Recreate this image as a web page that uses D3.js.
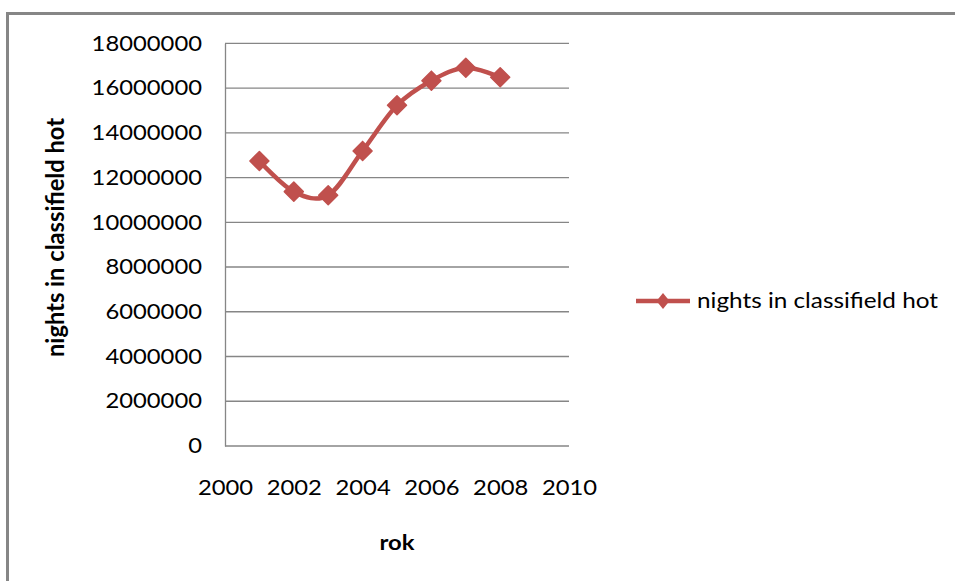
<!DOCTYPE html>
<html>
<head>
<meta charset="utf-8">
<script src="https://cdn.jsdelivr.net/npm/d3@7"></script>
<style>
  html, body { margin: 0; padding: 0; background: #fff; }
  svg { display: block; }
  text { font-family: Lato, "Open Sans", "Liberation Sans", sans-serif; fill: #000; }
</style>
</head>
<body>
<svg id="chart" width="955" height="581"></svg>
<script>
// ---- data ----
const years = [2001, 2002, 2003, 2004, 2005, 2006, 2007, 2008];
const nights = [12740000, 11370000, 11210000, 13190000, 15230000, 16330000, 16910000, 16480000];
const seriesName = "nights in classifield hot";
const yTicks = [0, 2000000, 4000000, 6000000, 8000000, 10000000, 12000000, 14000000, 16000000, 18000000];
const xTicks = [2000, 2002, 2004, 2006, 2008, 2010];
const xTitle = "rok";
const yTitle = "nights in classifield hot";

const W = 955, H = 581;
const plot = { left: 225, right: 569, top: 43.3, bottom: 446 };
const gridColor = "#868686";
const seriesColor = "#C0504D";

const svg = d3.select("#chart");

// outer border (top and left visible)
svg.append("path")
  .attr("d", `M7.5,${H} L7.5,13.5 L${W},13.5`)
  .attr("fill", "none")
  .attr("stroke", gridColor)
  .attr("stroke-width", 3);

const x = d3.scaleLinear().domain([2000, 2010]).range([plot.left, plot.right]);
const y = d3.scaleLinear().domain([0, 18000000]).range([plot.bottom, plot.top]);

// gridlines
svg.append("g")
  .selectAll("line")
  .data(yTicks)
  .join("line")
  .attr("x1", plot.left).attr("x2", plot.right)
  .attr("y1", d => y(d)).attr("y2", d => y(d))
  .attr("stroke", gridColor)
  .attr("stroke-width", 1.3);

// y axis
const digitW = 13.8;
const yAxis = svg.append("g")
  .attr("transform", `translate(${plot.left},0)`)
  .call(d3.axisLeft(y).tickValues(yTicks).tickSize(0).tickPadding(23).tickFormat(d3.format("d")));
yAxis.select(".domain").attr("stroke", gridColor).attr("stroke-width", 1.3);
yAxis.selectAll("text")
  .style("font-family", "Lato, sans-serif")
  .attr("font-size", 21)
  .attr("textLength", d => String(d).length * digitW)
  .attr("lengthAdjust", "spacingAndGlyphs");

// x axis
const xAxis = svg.append("g")
  .attr("transform", `translate(0,${plot.bottom})`)
  .call(d3.axisBottom(x).tickValues(xTicks).tickSize(0).tickPadding(0).tickFormat(d3.format("d")));
xAxis.select(".domain").remove();
xAxis.selectAll("text")
  .style("font-family", "Lato, sans-serif")
  .attr("font-size", 21)
  .attr("y", 42)
  .attr("dy", "0.35em")
  .attr("textLength", d => String(d).length * digitW)
  .attr("lengthAdjust", "spacingAndGlyphs");

// axis titles
svg.append("text")
  .attr("x", (plot.left + plot.right) / 2)
  .attr("y", 550)
  .attr("text-anchor", "middle")
  .attr("font-size", 20)
  .attr("font-weight", "bold")
  .attr("textLength", 35)
  .attr("lengthAdjust", "spacingAndGlyphs")
  .text(xTitle);

svg.append("text")
  .attr("transform", `translate(64,${(118 + 357) / 2}) rotate(-90)`)
  .attr("text-anchor", "middle")
  .attr("font-size", 24)
  .attr("font-weight", "bold")
  .attr("textLength", 239)
  .attr("lengthAdjust", "spacingAndGlyphs")
  .text(yTitle);

// series line
const data = years.map((yr, i) => ({ year: yr, value: nights[i] }));
const line = d3.line()
  .x(d => x(d.year))
  .y(d => y(d.value))
  .curve(d3.curveCatmullRom.alpha(0));

svg.append("path")
  .datum(data)
  .attr("d", line)
  .attr("fill", "none")
  .attr("stroke", seriesColor)
  .attr("stroke-width", 4.5)
  .attr("stroke-linejoin", "round");

const diamond = r => `M0,${-r} L${r},0 L0,${r} L${-r},0 Z`;
svg.append("g")
  .selectAll("path")
  .data(data)
  .join("path")
  .attr("transform", d => `translate(${x(d.year)},${y(d.value)})`)
  .attr("d", diamond(9.5))
  .attr("fill", seriesColor)
  .attr("stroke", seriesColor)
  .attr("stroke-width", 1.5)
  .attr("stroke-linejoin", "round");

// legend
const lg = svg.append("g").attr("transform", "translate(636,301)");
lg.append("line")
  .attr("x1", 0).attr("x2", 54).attr("y1", 0).attr("y2", 0)
  .attr("stroke", seriesColor).attr("stroke-width", 4.5);
lg.append("path")
  .attr("transform", "translate(27,0)")
  .attr("d", `M0,-8 L6.5,0 L0,8 L-6.5,0 Z`)
  .attr("fill", seriesColor);
lg.append("text")
  .attr("x", 61)
  .attr("y", 0)
  .attr("dy", "0.35em")
  .attr("font-size", 21)
  .attr("textLength", 241)
  .attr("lengthAdjust", "spacingAndGlyphs")
  .text(seriesName);
</script>
</body>
</html>
